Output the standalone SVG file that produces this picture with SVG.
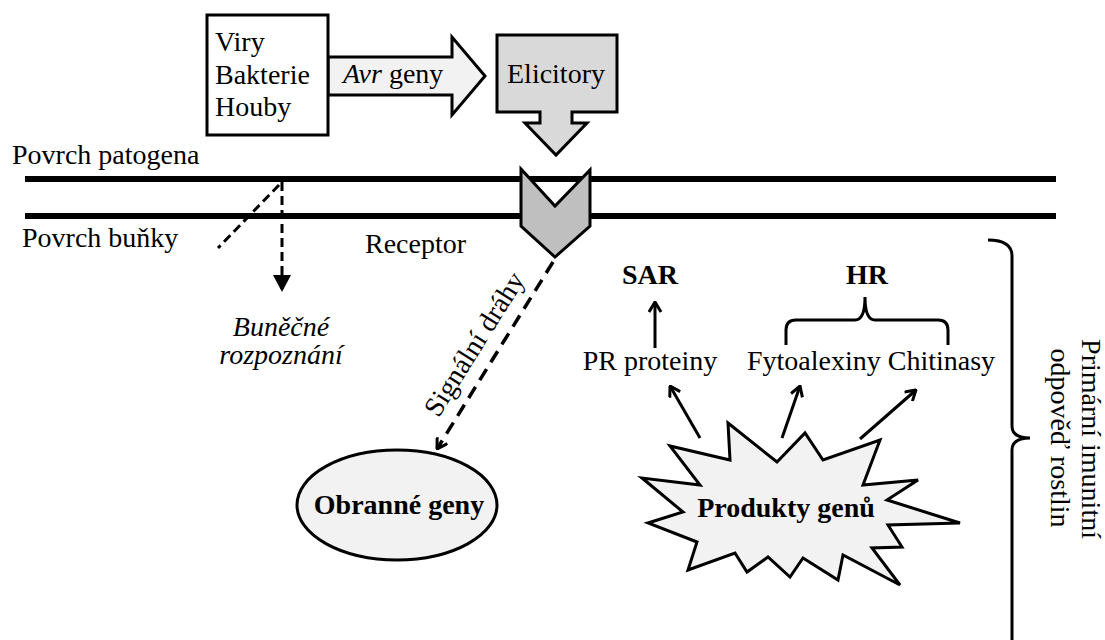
<svg xmlns="http://www.w3.org/2000/svg" width="1105" height="640" viewBox="0 0 1105 640">
<style>
text{font-size:28px;fill:#000}
.b{font-weight:bold}
.i{font-style:italic}
.sh{stroke:#000;stroke-width:3;stroke-linejoin:miter}
.mem{stroke:#000;stroke-width:6;fill:none}
.ln{stroke:#000;stroke-width:3;fill:none}
.dash{stroke:#000;stroke-width:3;fill:none;stroke-dasharray:9,5}
.dash2{stroke:#000;stroke-width:3.5;fill:none;stroke-dasharray:13,8}
</style>
<defs>
<marker id="open" viewBox="0 0 12 14" refX="11" refY="7" markerWidth="12" markerHeight="14" markerUnits="userSpaceOnUse" orient="auto">
<path d="M1,1 L11,7 L1,13" fill="none" stroke="#000" stroke-width="3"/>
</marker>
<marker id="fill" viewBox="0 0 17 18" refX="17" refY="9" markerWidth="17" markerHeight="18" markerUnits="userSpaceOnUse" orient="auto">
<path d="M0,0 L17,9 L0,18 Z" fill="#000"/>
</marker>
</defs>
<rect width="1105" height="640" fill="#fff"/>
<g font-family="'Liberation Serif', 'Times New Roman', 'DejaVu Serif', serif">

<g id="membranes">
<line class="mem" x1="25" y1="179" x2="1056" y2="179"/>
<line class="mem" x1="25" y1="216" x2="1056" y2="216"/>
<text x="12" y="164">Povrch patogena</text>
<text x="22" y="247">Povrch buňky</text>
</g>

<g id="avr-arrow">
<path class="sh" fill="#f2f2f2" d="M328,57 H452 V37 L485,76 L452,115 V95 H328 Z"/>
<text x="343" y="83"><tspan class="i">Avr</tspan> geny</text>
</g>

<g id="pathogens">
<rect class="sh" x="207" y="15" width="121" height="120" fill="#fff"/>
<text x="215" y="51">Viry</text>
<text x="215" y="84">Bakterie</text>
<text x="215" y="116">Houby</text>
</g>

<g id="elicitory">
<path class="sh" fill="#d9d9d9" d="M497,35 H617 V112 H572 V123 H587 L556,155 L525,123 H540 V112 H497 Z"/>
<text x="556" y="83" text-anchor="middle">Elicitory</text>
</g>

<g id="receptor">
<path class="sh" fill="#bfbfbf" d="M521,169 L555,206 L590,170 V226 L555,257 L521,226 Z"/>
<text x="365" y="253">Receptor</text>
</g>

<g id="connectors">
<line class="dash" x1="279" y1="185" x2="218" y2="248"/>
<line class="dash" x1="282" y1="182" x2="282" y2="292" marker-end="url(#fill)"/>
<line class="dash2" x1="553" y1="262" x2="437" y2="449" marker-end="url(#open)"/>
<line class="ln" x1="655" y1="348" x2="655" y2="302" marker-end="url(#open)"/>
<line class="ln" x1="700" y1="438" x2="670" y2="386" marker-end="url(#open)"/>
<line class="ln" x1="782" y1="438" x2="800" y2="386" marker-end="url(#open)"/>
<line class="ln" x1="860" y1="439" x2="916" y2="390" marker-end="url(#open)"/>
<path class="ln" d="M786,345 V330 Q786,320 796,320 H855 Q865,320 865,297 Q865,320 875,320 H938 Q948,320 948,330 V345"/>
<path class="ln" d="M988,240 Q1012,240 1012,256 V426 Q1012,438 1030,438 Q1012,438 1012,450 V640"/>
</g>

<g id="bunecne">
<text class="i" x="281" y="336" text-anchor="middle" font-size="25">Buněčné</text>
<text class="i" x="281" y="364" text-anchor="middle" font-size="25">rozpoznání</text>
</g>

<g id="signal-label">
<text transform="translate(482,349) rotate(-58)" text-anchor="middle">Signální dráhy</text>
</g>

<g id="obranne">
<ellipse class="sh" cx="397" cy="505" rx="100" ry="55" fill="#f2f2f2"/>
<text class="b" x="399" y="514" text-anchor="middle">Obranné geny</text>
</g>

<g id="produkty">
<path class="sh" fill="#f2f2f2" d="M728,423 L777,462 L805,433 L823,460 L880,440 L863,485 L918,480 L887,500 L960,523 L888,525 L902,547 L872,548 L900,585 L843,555 L838,580 L803,558 L790,577 L768,557 L747,572 L735,553 L688,570 L697,542 L648,523 L683,512 L642,478 L700,485 L670,446 L730,460 Z"/>
<text class="b" x="786" y="517" text-anchor="middle">Produkty genů</text>
</g>

<g id="sar">
<text class="b" x="650" y="284" text-anchor="middle">SAR</text>
<text x="650" y="370" text-anchor="middle">PR proteiny</text>
</g>

<g id="hr">
<text class="b" x="867" y="284" text-anchor="middle">HR</text>
<text x="871" y="370" text-anchor="middle">Fytoalexiny Chitinasy</text>
</g>

<g id="response">
<text transform="translate(1082,439) rotate(90)" text-anchor="middle">Primární imunitní</text>
<text transform="translate(1051,438) rotate(90)" text-anchor="middle">odpověď rostlin</text>
</g>
</g>
</svg>
